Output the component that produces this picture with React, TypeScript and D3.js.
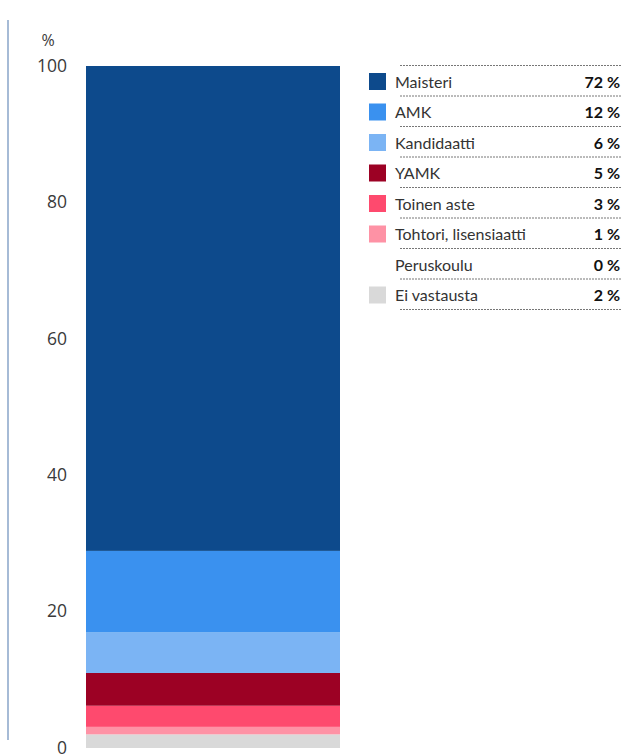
import * as d3 from 'd3';
import React, { useEffect, useRef } from 'react';

const categories = [
  'Maisteri',
  'AMK',
  'Kandidaatti',
  'YAMK',
  'Toinen aste',
  'Tohtori, lisensiaatti',
  'Peruskoulu',
  'Ei vastausta',
];
const values = [71.1, 11.9, 6.0, 4.8, 3.1, 1.1, 0, 2.0];
const valueLabels = ['72 %', '12 %', '6 %', '5 %', '3 %', '1 %', '0 %', '2 %'];
const colors = ['#0d4a8c', '#3a91ef', '#7bb4f4', '#9c0124', '#fe4a6e', '#fe92a5', '#ffffff', '#d9d9d9'];
const yTicks = [0, 20, 40, 60, 80, 100];

const App = () => {
  const svgRef = useRef<SVGSVGElement>(null);

  useEffect(() => {
    const width = 624;
    const height = 754;
    const svg = d3.select(svgRef.current).attr('width', width).attr('height', height);
    svg.selectAll('*').remove();

    const y = d3.scaleLinear().domain([0, 100]).range([748, 66]);
    const barX = 86;
    const barW = 254;

    // left rule
    svg.append('line')
      .attr('x1', 8).attr('x2', 8).attr('y1', 20).attr('y2', 740)
      .attr('stroke', '#89a5c9').attr('stroke-width', 1.5);

    // y tick labels
    svg.append('g').selectAll('text').data(yTicks).join('text')
      .attr('x', 67).attr('y', (d) => y(d)).attr('dy', '0.33em')
      .attr('text-anchor', 'end')
      .attr('font-family', '"Open Sans", sans-serif').attr('font-size', 17.5)
      .attr('fill', '#3a3a3a').text((d) => d);

    svg.append('text').attr('x', 48).attr('y', 46).attr('text-anchor', 'middle')
      .attr('font-family', '"Open Sans", sans-serif').attr('font-size', 16)
      .attr('fill', '#3a3a3a').text('%');

    // stacked bar, bottom up from last category
    const order = d3.range(categories.length).reverse();
    let acc = 0;
    const segs = order.map((i) => {
      const s = { i, y0: acc, y1: acc + values[i] };
      acc += values[i];
      return s;
    });
    svg.append('g').selectAll('rect').data(segs.filter((d) => d.y1 > d.y0)).join('rect')
      .attr('x', barX).attr('width', barW)
      .attr('y', (d) => y(d.y1)).attr('height', (d) => y(d.y0) - y(d.y1))
      .attr('fill', (d) => colors[d.i]);

    // legend
    const rowY = d3.scaleBand<number>().domain(d3.range(categories.length)).range([66, 310]);
    const lg = svg.append('g');
    lg.append('line')
      .attr('x1', 400).attr('x2', 622).attr('y1', 65.5).attr('y2', 65.5)
      .attr('stroke', '#777').attr('stroke-dasharray', '2,1');
    const rows = lg.selectAll('g.row').data(categories).join('g').attr('class', 'row')
      .attr('transform', (_, i) => `translate(0, ${rowY(i)})`);
    rows.append('rect')
      .attr('x', 369).attr('y', 7).attr('width', 17).attr('height', 17)
      .attr('fill', (_, i) => colors[i]);
    rows.append('text')
      .attr('x', 395).attr('y', 16).attr('dy', '0.35em')
      .attr('font-family', 'Lato, sans-serif').attr('font-size', 16)
      .attr('fill', '#333').text((d) => d);
    rows.append('text')
      .attr('x', 620).attr('y', 16).attr('dy', '0.35em').attr('text-anchor', 'end')
      .attr('font-family', 'Lato, sans-serif').attr('font-size', 16).attr('font-weight', 'bold')
      .attr('fill', '#111').text((_, i) => valueLabels[i]);
    rows.append('line')
      .attr('x1', 400).attr('x2', 622).attr('y1', rowY.bandwidth() - 0.5).attr('y2', rowY.bandwidth() - 0.5)
      .attr('stroke', '#777').attr('stroke-dasharray', '2,1');
  }, []);

  return (
    <div style={{ position: 'absolute', left: 0, top: 0 }}>
      <svg ref={svgRef} style={{ display: 'block' }} />
    </div>
  );
};

export default App;
